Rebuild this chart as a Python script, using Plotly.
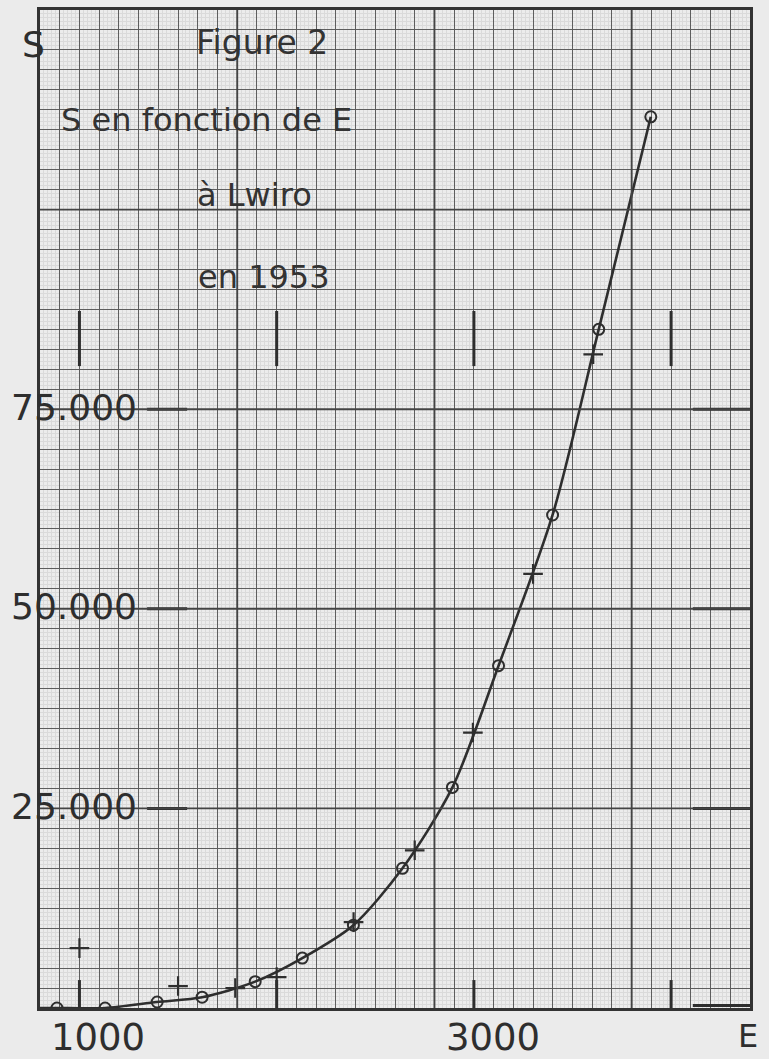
import plotly.graph_objects as go

# ---- data ----
circle_E = [886, 1130, 1394, 1622, 1891, 2130, 2389, 2638, 2891, 3125, 3399, 3633, 3897]
circle_S = [0, 0, 750, 1350, 3300, 6250, 10375, 17500, 27625, 42875, 61750, 85000, 111625]

plus_E = [1000, 1500, 1790, 2000, 2390, 2700, 2995, 3300, 3605]
plus_S = [7500, 2750, 2500, 3875, 10750, 19750, 34500, 54375, 81875]

curve_E = [800] + circle_E
curve_S = [0] + circle_S

x_tick_vals = [1000, 2000, 3000, 4000]
x_tick_text = ["1000", "", "3000", ""]
y_tick_vals = [25000, 50000, 75000]
y_tick_text = ["25.000", "50.000", "75.000"]

title_lines = ["Figure 2", "S en fonction de E", "à Lwiro", "en 1953"]

E_RANGE = [800, 4400]
S_RANGE = [0, 125000]

INK = "#2e2e2e"
GRID = "#5e5e5e"
FINE = "#dadada"
HEAVY = "#444444"
BG = "#ebebeb"
FONT = "DejaVu Sans"

fig = go.Figure()

def segs(pairs):
    xs, ys = [], []
    for (x0, y0, x1, y1) in pairs:
        xs += [x0, x1, None]
        ys += [y0, y1, None]
    return xs, ys

upper = [(e, 80400, e, 87300) for e in x_tick_vals]
bottom = [(e, 0, e, 3500) for e in x_tick_vals]
left_dash = [(1343, s, 1546, s) for s in y_tick_vals]
right_dash = [(4110, s, 4400, s) for s in [300] + y_tick_vals]
mx, my = segs(upper + bottom + left_dash + right_dash)
fig.add_trace(go.Scatter(x=mx, y=my, mode="lines",
                         line=dict(color=INK, width=3), hoverinfo="skip",
                         showlegend=False))

# fitted curve
fig.add_trace(go.Scatter(x=curve_E, y=curve_S, mode="lines",
                         line=dict(color=INK, width=2.6, shape="spline", smoothing=0.8),
                         showlegend=False, hoverinfo="skip"))

# observation markers
fig.add_trace(go.Scatter(x=plus_E, y=plus_S, mode="markers",
                         marker=dict(symbol="cross-thin-open", size=14, color=INK,
                                     line=dict(color=INK, width=2.2)),
                         showlegend=False))
fig.add_trace(go.Scatter(x=circle_E, y=circle_S, mode="markers",
                         marker=dict(symbol="circle-open", size=11, color=INK,
                                     line=dict(color=INK, width=2)),
                         showlegend=False))

# heavy grid lines
shapes = []
for e in range(1800, E_RANGE[1], 1000):
    shapes.append(dict(type="line", xref="x", yref="paper", x0=e, x1=e, y0=0, y1=1,
                       line=dict(color=HEAVY, width=1.9), layer="above"))
for s in range(25000, S_RANGE[1], 25000):
    shapes.append(dict(type="line", xref="paper", yref="y", x0=0, x1=1, y0=s, y1=s,
                       line=dict(color=HEAVY, width=1.9), layer="above"))

annotations = []
for v, t in zip(x_tick_vals, x_tick_text):
    if t:
        annotations.append(dict(x=v, y=0, xref="x", yref="paper", text=t,
                                showarrow=False, xanchor="center", yanchor="top",
                                xshift=19, yshift=-6,
                                font=dict(family=FONT, size=37, color=INK)))
for v, t in zip(y_tick_vals, y_tick_text):
    annotations.append(dict(x=0, y=v, xref="paper", yref="y", text=t,
                            showarrow=False, xanchor="left", yanchor="middle",
                            xshift=-31, yshift=2,
                            font=dict(family=FONT, size=36, color=INK)))
annotations.append(dict(x=1, y=0, xref="paper", yref="paper", text="E",
                        showarrow=False, xanchor="center", yanchor="middle",
                        xshift=-2, yshift=-28,
                        font=dict(family=FONT, size=32, color=INK)))
annotations.append(dict(x=0, y=1, xref="paper", yref="paper", text="S",
                        showarrow=False, xanchor="center", yanchor="top",
                        xshift=-7, yshift=-12,
                        font=dict(family=FONT, size=36, color=INK)))
title_pos = [(262, 40), (206, 117), (254, 193), (264, 275)]
title_size = [33, 32, 32, 32]
for (px, py), txt, sz in zip(title_pos, title_lines, title_size):
    annotations.append(dict(x=(px - 40) / 710, y=(1008 - py) / 1001,
                            xref="paper", yref="paper", text=txt, showarrow=False,
                            xanchor="center", yanchor="middle",
                            font=dict(family=FONT, size=sz, color="#333333")))

fig.update_layout(
    width=769, height=1059,
    margin=dict(l=40, r=19, t=7, b=51),
    paper_bgcolor=BG, plot_bgcolor="#ececec",
    shapes=shapes, annotations=annotations,
    showlegend=False,
)
fig.update_xaxes(range=E_RANGE, tick0=800, dtick=100, showgrid=True,
                 gridcolor=GRID, gridwidth=1.4, showticklabels=False, ticks="",
                 zeroline=False, showline=True, mirror=True,
                 linecolor="#333333", linewidth=2.5,
                 minor=dict(tick0=800, dtick=20, showgrid=True,
                            gridcolor=FINE, gridwidth=0.6))
fig.update_yaxes(range=S_RANGE, tick0=0, dtick=2500, showgrid=True,
                 gridcolor=GRID, gridwidth=1.4, showticklabels=False, ticks="",
                 zeroline=False, showline=True, mirror=True,
                 linecolor="#333333", linewidth=2.5,
                 minor=dict(tick0=0, dtick=500, showgrid=True,
                            gridcolor=FINE, gridwidth=0.6))

fig.write_html("out.html",
               config={"displayModeBar": False},
               post_script="document.body.style.margin='0';"
                           "document.body.style.background='#ebebeb';")
